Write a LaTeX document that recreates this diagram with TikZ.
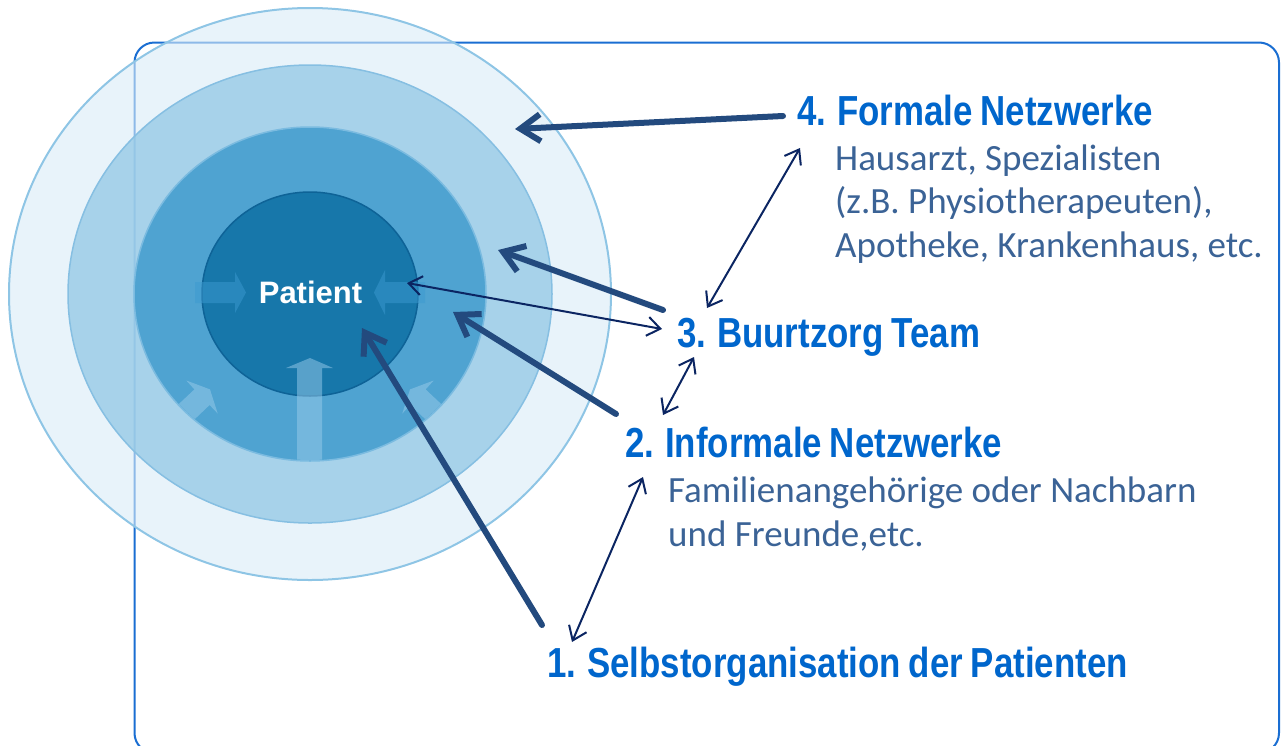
\documentclass[tikz,border=0pt]{standalone}
\usepackage{fontspec}
\setmainfont{Liberation Sans}
\newfontfamily\headfont{Liberation Sans}[FakeStretch=0.83,WordSpace=0.8]
\newfontfamily\subfont{Carlito}
\usetikzlibrary{arrows.meta}
\definecolor{rectblue}{HTML}{1A6ED2}
\definecolor{outerfill}{HTML}{D9EBF7}
\definecolor{outerline}{HTML}{8EC5E5}
\definecolor{ringtwofill}{HTML}{97CAE6}
\definecolor{ringtwoline}{HTML}{86BFE2}
\definecolor{ringthreefill}{HTML}{4FA3D1}
\definecolor{ringthreeline}{HTML}{7BBBE0}
\definecolor{innerfill}{HTML}{1777AA}
\definecolor{innerline}{HTML}{0E6397}
\definecolor{headblue}{HTML}{0066CC}
\definecolor{subblue}{HTML}{3B6396}
\definecolor{thickblue}{HTML}{234A7E}
\definecolor{thinblue}{HTML}{0B2562}
\definecolor{decoA}{HTML}{3C9AD0}
\definecolor{decoB}{HTML}{9ACBEA}
\tikzset{
  heading/.style={anchor=base west, inner sep=0pt, text=headblue, font=\headfont\bfseries\fontsize{42}{50}\selectfont},
  subtext/.style={anchor=base west, inner sep=0pt, text=subblue, font=\subfont\fontsize{37}{44}\selectfont},
  thickarrow/.style={draw=thickblue, line width=6pt, line cap=round, -{Straight Barb[length=20pt,width=27pt]}},
  thinarrow/.style={draw=thinblue, line width=2pt, {Straight Barb[length=13pt,width=19pt]}-{Straight Barb[length=13pt,width=19pt]}},
  decoleft/.style={fill=decoA, fill opacity=0.5, draw=none},
  decolight/.style={fill=decoB, fill opacity=0.5, draw=none}
}
\begin{document}
\begin{tikzpicture}[x=1pt,y=-1pt]
\useasboundingbox (0,0) rectangle (1287,745);
% frame
\draw[rectblue, line width=2pt, rounded corners=20pt] (134.5,42.5) rectangle (1279,753);
% rings
\coordinate (c) at (310,294);
\path[fill=outerfill, fill opacity=0.6, draw=outerline, line width=2pt] (c) ellipse [x radius=301, y radius=286];
\path[fill=ringtwofill, fill opacity=0.8, draw=ringtwoline, line width=1.5pt] (c) ellipse [x radius=242, y radius=229];
\path[fill=ringthreefill, draw=ringthreeline, line width=1.5pt] (c) ellipse [x radius=176, y radius=167];
\path[fill=innerfill, draw=innerline, line width=1.5pt] (c) ellipse [x radius=108, y radius=102];
% decorative block arrows
\begin{scope}
\clip (c) ellipse [x radius=175, y radius=166];
\fill[decoleft] (195,282)--(235,282)--(235,272)--(246,292.5)--(235,313)--(235,303)--(195,303)--cycle;
\fill[decoleft] (425,282)--(385,282)--(385,270)--(374,292.5)--(385,315)--(385,303)--(425,303)--cycle;
\fill[decolight] (297,475)--(297,368)--(286,368)--(310,358)--(333,368)--(322,368)--(322,475)--cycle;
\fill[decolight] (210,389.4)--(217.7,413.5)--(209.6,405)--(179.85,433.3)--(164.65,417.3)--(194.4,389.4)--(186.3,380.5)--cycle;
\fill[decolight] (410,389.4)--(402.3,413.5)--(410.4,405)--(440.15,433.3)--(455.35,417.3)--(425.6,389.4)--(433.7,380.5)--cycle;
\end{scope}
\node[anchor=base, inner sep=0pt, text=white, font=\bfseries\fontsize{31}{36}\selectfont] (patient) at (310.5,303) {Patient};
% texts
\node[heading] (n4) at (797,125) {4. Formale Netzwerke};
\node[subtext] (s4a) at (835,170) {Hausarzt, Spezialisten};
\node[subtext] (s4b) at (835,213.5) {(z.B. Physiotherapeuten),};
\node[subtext] (s4c) at (835,257) {Apotheke, Krankenhaus, etc.};
\node[heading] (n3) at (677,347) {3. Buurtzorg Team};
\node[heading] (n2) at (625,457) {2. Informale Netzwerke};
\node[subtext] (s2a) at (668,502) {Familienangehörige oder Nachbarn};
\node[subtext] (s2b) at (668,546.5) {und Freunde,etc.};
\node[heading] (n1) at (547,677) {1. Selbstorganisation der Patienten};
% arrow end points
\coordinate (t4a) at (783,116);  \coordinate (t4b) at (515,129);
\coordinate (t3a) at (663,310);  \coordinate (t3b) at (498,250);
\coordinate (t2a) at (616,414);  \coordinate (t2b) at (453,312);
\coordinate (t1a) at (542,625);  \coordinate (t1b) at (362,328);
\coordinate (d1a) at (407,283);  \coordinate (d1b) at (662,329);
\coordinate (d2a) at (800,148);  \coordinate (d2b) at (707,308);
\coordinate (d3a) at (694,357);  \coordinate (d3b) at (663,415);
\coordinate (d4a) at (643,477);  \coordinate (d4b) at (572,642);
% thick arrows
\draw[thickarrow] (t4a) -- (t4b);
\draw[thickarrow] (t3a) -- (t3b);
\draw[thickarrow] (t2a) -- (t2b);
\draw[thickarrow] (t1a) -- (t1b);
% thin double arrows
\draw[thinarrow] (d1a) -- (d1b);
\draw[thinarrow] (d2a) -- (d2b);
\draw[thinarrow] (d3a) -- (d3b);
\draw[thinarrow] (d4a) -- (d4b);
\end{tikzpicture}
\end{document}
